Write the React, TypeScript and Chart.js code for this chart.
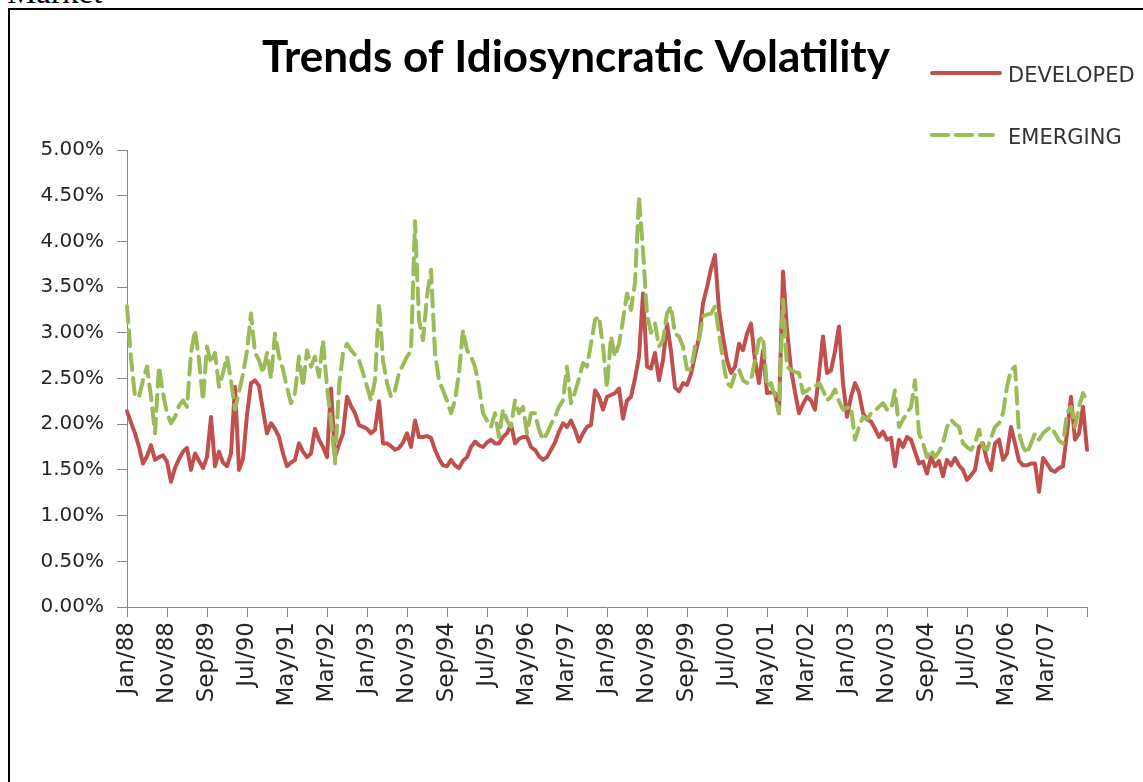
import React, { useEffect, useRef } from 'react';
import { Chart, registerables } from 'chart.js';

Chart.register(...registerables);

const TITLE = 'Trends of Idiosyncratic Volatility';
const MONTHS = ['Jan', 'Feb', 'Mar', 'Apr', 'May', 'Jun', 'Jul', 'Aug', 'Sep', 'Oct', 'Nov', 'Dec'];
// Monthly categories Jan/88 .. Jan/08
const categories: string[] = Array.from({ length: 241 }, (_, i) =>
  `${MONTHS[i % 12]}/${String((88 + Math.floor(i / 12)) % 100).padStart(2, '0')}`
);
const LABEL_EVERY = 10;

const developed: number[] = [
  2.14, 2.02, 1.90, 1.75, 1.57, 1.65, 1.77, 1.61, 1.64, 1.66,
  1.59, 1.37, 1.52, 1.62, 1.70, 1.74, 1.50, 1.68, 1.60, 1.52,
  1.64, 2.08, 1.54, 1.70, 1.58, 1.54, 1.68, 2.41, 1.50, 1.62,
  2.10, 2.45, 2.48, 2.42, 2.15, 1.90, 2.01, 1.95, 1.86, 1.68,
  1.54, 1.58, 1.61, 1.79, 1.70, 1.64, 1.68, 1.95, 1.83, 1.75,
  1.64, 2.39, 1.64, 1.78, 1.90, 2.30, 2.20, 2.12, 1.99, 1.97,
  1.95, 1.90, 1.94, 2.25, 1.79, 1.79, 1.76, 1.72, 1.74, 1.80,
  1.90, 1.75, 2.04, 1.86, 1.86, 1.87, 1.85, 1.72, 1.62, 1.55,
  1.54, 1.61, 1.55, 1.52, 1.60, 1.64, 1.75, 1.81, 1.77, 1.75,
  1.80, 1.83, 1.79, 1.79, 1.86, 1.90, 2.00, 1.79, 1.84, 1.86,
  1.86, 1.75, 1.72, 1.65, 1.61, 1.64, 1.72, 1.80, 1.92, 2.01,
  1.97, 2.04, 1.94, 1.81, 1.90, 1.97, 1.99, 2.37, 2.30, 2.16,
  2.30, 2.32, 2.34, 2.39, 2.06, 2.26, 2.30, 2.50, 2.74, 3.43,
  2.63, 2.61, 2.78, 2.48, 2.70, 3.10, 2.80, 2.40, 2.36, 2.45,
  2.43, 2.55, 2.75, 2.95, 3.32, 3.50, 3.70, 3.85, 3.25, 2.95,
  2.70, 2.56, 2.63, 2.88, 2.81, 2.99, 3.10, 2.70, 2.45, 2.81,
  2.34, 2.35, 2.34, 2.12, 3.67, 3.03, 2.60, 2.35, 2.12, 2.22,
  2.30, 2.26, 2.16, 2.55, 2.96, 2.56, 2.59, 2.80, 3.07, 2.45,
  2.08, 2.30, 2.45, 2.35, 2.12, 2.05, 2.03, 1.95, 1.86, 1.92,
  1.83, 1.85, 1.54, 1.83, 1.75, 1.86, 1.83, 1.70, 1.57, 1.59,
  1.46, 1.64, 1.54, 1.60, 1.43, 1.61, 1.55, 1.63, 1.55, 1.50,
  1.39, 1.44, 1.50, 1.75, 1.79, 1.60, 1.50, 1.79, 1.83, 1.61,
  1.68, 1.97, 1.79, 1.60, 1.55, 1.55, 1.57, 1.57, 1.26, 1.63,
  1.57, 1.50, 1.48, 1.52, 1.54, 1.90, 2.30, 1.83, 1.90, 2.19,
  1.72,
];

const emerging: number[] = [
  3.29, 2.72, 2.30, 2.30, 2.48, 2.63, 2.30, 1.90, 2.63, 2.34,
  2.12, 2.01, 2.08, 2.20, 2.26, 2.19, 2.78, 3.03, 2.70, 2.26,
  2.85, 2.67, 2.78, 2.41, 2.56, 2.74, 2.48, 2.16, 2.35, 2.55,
  2.80, 3.21, 2.78, 2.70, 2.56, 2.78, 2.50, 2.99, 2.74, 2.60,
  2.40, 2.23, 2.34, 2.74, 2.41, 2.81, 2.63, 2.74, 2.52, 2.92,
  2.41, 2.04, 1.57, 2.41, 2.78, 2.88, 2.81, 2.76, 2.70, 2.56,
  2.41, 2.26, 2.48, 3.32, 2.70, 2.45, 2.30, 2.37, 2.56, 2.65,
  2.74, 2.80, 4.22, 3.14, 2.92, 3.40, 3.69, 2.78, 2.48, 2.37,
  2.26, 2.12, 2.26, 2.56, 3.03, 2.81, 2.74, 2.63, 2.41, 2.12,
  2.04, 1.97, 2.12, 1.86, 2.16, 2.04, 1.97, 2.26, 2.12, 2.19,
  1.90, 2.12, 2.12, 1.94, 1.83, 1.90, 2.00, 2.08, 2.19, 2.26,
  2.63, 2.23, 2.35, 2.50, 2.67, 2.63, 2.88, 3.14, 3.18, 2.85,
  2.40, 2.96, 2.74, 2.88, 3.14, 3.43, 3.25, 3.55, 4.49, 3.90,
  3.20, 3.00, 3.10, 2.85, 2.92, 3.21, 3.29, 2.99, 2.96, 2.85,
  2.60, 2.60, 2.85, 2.92, 3.18, 3.20, 3.21, 3.29, 2.99, 2.70,
  2.45, 2.41, 2.55, 2.60, 2.48, 2.45, 2.48, 2.70, 2.92, 2.96,
  2.41, 2.45, 2.30, 2.12, 3.36, 2.63, 2.59, 2.57, 2.56, 2.34,
  2.37, 2.40, 2.41, 2.45, 2.37, 2.26, 2.30, 2.38, 2.25, 2.16,
  2.18, 2.19, 1.83, 1.97, 2.08, 2.05, 2.12, 2.15, 2.19, 2.23,
  2.16, 2.16, 2.37, 1.97, 2.05, 2.12, 2.19, 2.48, 1.90, 1.79,
  1.64, 1.72, 1.64, 1.70, 1.79, 1.97, 2.05, 2.00, 1.97, 1.79,
  1.75, 1.72, 1.79, 1.94, 1.75, 1.72, 1.85, 1.97, 2.01, 2.12,
  2.41, 2.59, 2.63, 1.90, 1.75, 1.68, 1.79, 1.90, 1.83, 1.90,
  1.94, 1.97, 1.90, 1.82, 1.79, 2.12, 2.19, 1.97, 2.19, 2.34,
  2.26,
];

const Y_MIN = 0;
const Y_MAX = 5;
const Y_STEP = 0.5;

const RED = '#C0504D';
const GREEN = '#9BBB59';
const AXIS = '#868686';
const TEXT = '#262626';
const DASH = [16, 8];

const CANVAS_W = 1133;
const CANVAS_H = 772;

const overlayPlugin = {
  id: 'overlay',
  afterDraw(chart: any) {
    const ctx: CanvasRenderingContext2D = chart.ctx;
    ctx.save();
    ctx.fillStyle = '#000';
    ctx.font = 'bold 44px Lato';
    ctx.textAlign = 'center';
    ctx.textBaseline = 'alphabetic';
    ctx.fillText(TITLE, 566, 62);

    const legendRows = [
      { y: 63, x2: 990, base: 72 },
      { y: 125, x2: 983, base: 134 },
    ];
    chart.data.datasets.forEach((ds: any, k: number) => {
      const row = legendRows[k];
      ctx.beginPath();
      ctx.strokeStyle = ds.borderColor;
      ctx.lineWidth = ds.borderWidth;
      ctx.lineCap = 'round';
      ctx.setLineDash(ds.borderDash || []);
      ctx.moveTo(922, row.y);
      ctx.lineTo(row.x2, row.y);
      ctx.stroke();
      ctx.setLineDash([]);
      ctx.fillStyle = '#333';
      ctx.font = '21px "DejaVu Sans"';
      ctx.textAlign = 'left';
      ctx.textBaseline = 'alphabetic';
      ctx.fillText(ds.label, 998, row.base);
    });
    ctx.restore();
  },
};

export default function App() {
  const ref = useRef<HTMLCanvasElement | null>(null);

  useEffect(() => {
    document.documentElement.style.overflow = 'hidden';
    document.body.style.overflow = 'hidden';
    if (!ref.current) return;
    const chart = new Chart(ref.current, {
      type: 'line',
      data: {
        labels: categories,
        datasets: [
          {
            label: 'DEVELOPED',
            data: developed,
            borderColor: RED,
            backgroundColor: RED,
            borderWidth: 4,
            borderJoinStyle: 'round',
            borderCapStyle: 'round',
            pointRadius: 0,
            tension: 0,
            order: 1,
          },
          {
            label: 'EMERGING',
            data: emerging,
            borderColor: GREEN,
            backgroundColor: GREEN,
            borderWidth: 4,
            borderDash: DASH,
            borderJoinStyle: 'round',
            borderCapStyle: 'round',
            pointRadius: 0,
            tension: 0,
            order: 0,
          },
        ],
      },
      options: {
        animation: false,
        responsive: false,
        maintainAspectRatio: false,
        devicePixelRatio: 1,
        layout: { padding: { top: 140, right: 56, left: 0, bottom: 0 } },
        plugins: {
          legend: { display: false },
          title: { display: false },
          tooltip: { enabled: false },
        },
        scales: {
          x: {
            type: 'category',
            offset: false,
            grid: {
              display: true,
              drawOnChartArea: false,
              drawTicks: true,
              tickLength: 10,
              color: AXIS,
              tickColor: (c: any) => (c.index % LABEL_EVERY === 0 ? AXIS : 'rgba(0,0,0,0)'),
            },
            border: { display: true, color: AXIS, width: 1 },
            ticks: {
              autoSkip: false,
              minRotation: 90,
              maxRotation: 90,
              padding: 5,
              color: TEXT,
              font: { family: 'DejaVu Sans', size: 23 },
              callback: (_v: any, i: number) =>
                i % LABEL_EVERY === 0 && i < categories.length - 1 ? categories[i] : '',
            },
            afterFit: (s: any) => {
              s.height = 175;
            },
          },
          y: {
            min: Y_MIN,
            max: Y_MAX,
            grid: { display: true, drawOnChartArea: false, tickLength: 10, color: AXIS },
            border: { display: true, color: AXIS, width: 1 },
            ticks: {
              stepSize: Y_STEP,
              padding: 13,
              color: TEXT,
              font: { family: 'DejaVu Sans', size: 20 },
              callback: (v: any) => Number(v).toFixed(2) + '%',
            },
            afterFit: (s: any) => {
              s.width = 117;
            },
          },
        },
      },
      plugins: [overlayPlugin],
    } as any);
    return () => chart.destroy();
  }, []);

  return (
    <div>
      <div
        style={{
          position: 'absolute',
          left: 7,
          top: -24,
          fontFamily: '"Liberation Serif", serif',
          fontSize: 33,
          lineHeight: '33px',
          color: '#000',
          whiteSpace: 'nowrap',
        }}
      >
        Market
      </div>
      <div
        style={{
          position: 'absolute',
          left: 8,
          top: 8,
          width: 1200,
          height: 900,
          border: '2px solid #000',
          background: '#fff',
        }}
      >
        <canvas
          ref={ref}
          width={CANVAS_W}
          height={CANVAS_H}
          style={{ position: 'absolute', left: 0, top: 0, width: CANVAS_W, height: CANVAS_H }}
        />
      </div>
    </div>
  );
}
